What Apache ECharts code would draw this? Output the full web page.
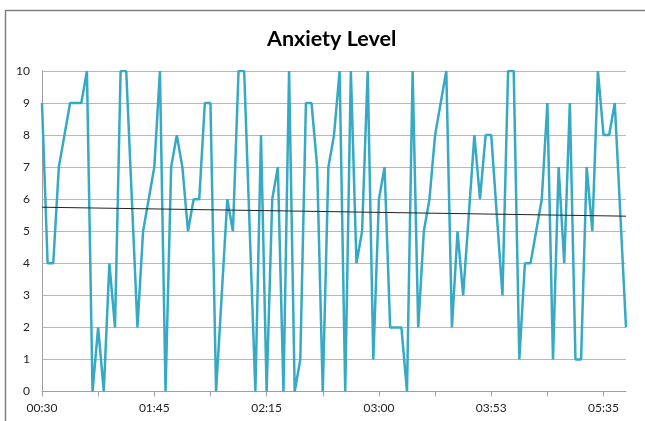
<!DOCTYPE html>
<html>
<head>
<meta charset="utf-8">
<script src="https://cdn.jsdelivr.net/npm/echarts@6/dist/echarts.min.js"></script>
<style>
html,body{margin:0;padding:0;background:#fff;}
#c{width:645px;height:421px;}
</style>
</head>
<body>
<div id="c"></div>
<script>
const title = 'Anxiety Level';
const tickLabels = ['00:30','01:45','02:15','03:00','03:53','05:35'];
const labelEvery = 20;
const anxiety = [
  9,4,4,7,8,9,9,9,10,0,
  2,0,4,2,10,10,6,2,5,6,
  7,10,0,7,8,7,5,6,6,9,
  9,0,3,6,5,10,10,5,0,8,
  0,6,7,0,10,0,1,9,9,7,
  0,7,8,10,0,10,4,5,10,1,
  6,7,2,2,2,0,10,2,5,6,
  8,9,10,2,5,3,5.5,8,6,8,
  8,5.5,3,10,10,1,4,4,5,6,
  9,1,7,4,9,1,1,7,5,10,
  8,8,9,5.5,2
];
const trendStart = 5.75;
const trendEnd = 5.47;

const categories = anxiety.map((v, i) => (i % labelEvery === 0 ? (tickLabels[i / labelEvery] || '') : ''));

const chart = echarts.init(document.getElementById('c'), null, {renderer: 'canvas'});
chart.setOption({
  animation: false,
  backgroundColor: '#fff',
  title: {
    text: title,
    left: 262,
    top: 23,
    textStyle: {fontFamily: 'Lato', fontWeight: 'bold', fontSize: 21.5, color: '#000'}
  },
  graphic: [{
    type: 'rect',
    shape: {x: 5.5, y: 10.5, width: 700, height: 500},
    style: {fill: 'none', stroke: '#7f7f7f', lineWidth: 1.5},
    silent: true
  }],
  grid: {left: 42, right: 19, top: 71, bottom: 29.5, containLabel: false},
  xAxis: {
    type: 'category',
    data: categories,
    boundaryGap: false,
    axisLine: {lineStyle: {color: '#a0a0a0', width: 1}},
    axisTick: {show: true, interval: 9, length: 5, lineStyle: {color: '#a0a0a0'}},
    axisLabel: {interval: labelEvery - 1, color: '#222', fontSize: 12, fontFamily: 'Lato', margin: 11},
    splitLine: {show: false}
  },
  yAxis: {
    type: 'value',
    min: 0, max: 10, interval: 1,
    axisLine: {show: true, lineStyle: {color: '#a0a0a0'}},
    axisTick: {show: false},
    axisLabel: {color: '#222', fontSize: 12, fontFamily: 'Lato', margin: 12},
    splitLine: {lineStyle: {color: '#b8b8b8', width: 1}}
  },
  series: [
    {
      type: 'line',
      data: anxiety,
      symbol: 'none',
      lineStyle: {color: '#36a9c4', width: 2.5},
      z: 3
    },
    {
      type: 'line',
      data: [[0, trendStart], [anxiety.length - 1, trendEnd]],
      symbol: 'none',
      lineStyle: {color: '#222', width: 1},
      z: 4
    }
  ]
});
</script>
</body>
</html>
